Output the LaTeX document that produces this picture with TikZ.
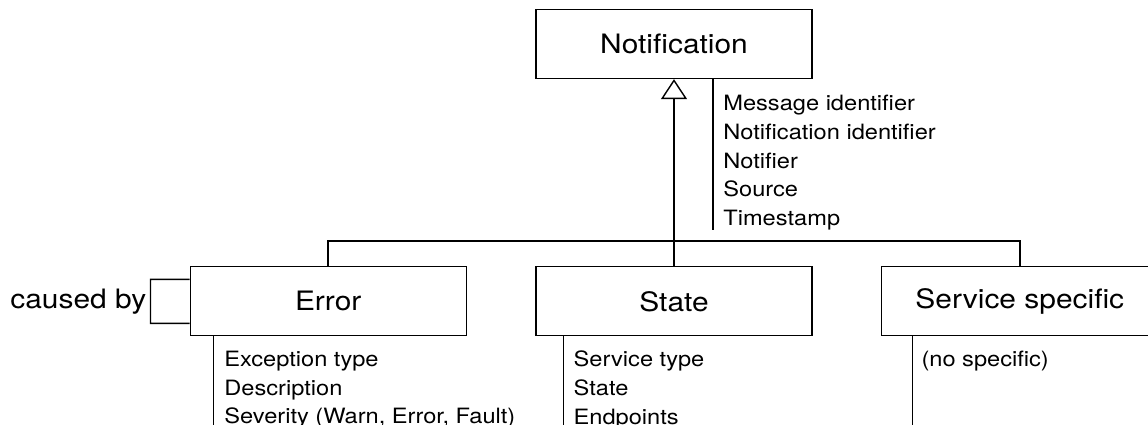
\documentclass[tikz,border=0pt]{standalone}
\usepackage{fontspec}
\setmainfont[FakeStretch=1.12]{TeX Gyre Heros}
\usepackage{tikz}
\usetikzlibrary{arrows.meta,positioning,calc}

\begin{document}
\begin{tikzpicture}[
    node distance=3.74cm and 1.37cm,
    classbox/.style={rectangle, draw, line width=0.75pt, minimum width=5.52cm, minimum height=1.38cm, font=\fontsize{15.2}{18}\selectfont},
    attrline/.style={line width=0.6pt},
    attrtext/.style={anchor=north west, inner sep=0pt, align=left, font=\fontsize{12}{16.4}\selectfont},
    bus/.style={line width=0.8pt},
    genarrow/.style={line width=1.1pt, -{Triangle[open, length=0.4cm, width=0.52cm, line width=0.8pt]}}
]
    \clip (0,0) rectangle (22.96,-8.5);

    % Main components
    \node[classbox] (notification) at (13.48,-0.88) {Notification};
    \node[classbox, below=of notification] (state) {State};
    \node[classbox, left=of state] (error) {Error};
    \node[classbox, right=of state] (service) {Service specific};

    % Generalisation
    \draw[bus] (error.north) -- ++(0,0.5cm) coordinate (busleft) -| (service.north);
    \draw[genarrow] (state.north) -- (notification.south);

    % Attributes
    \draw[attrline] ([xshift=0.78cm]notification.south) coordinate (nattr) -- ++(0,-3.02cm);
    \node[attrtext] at ([xshift=0.2cm, yshift=-0.31cm]nattr) {Message identifier\\Notification identifier\\Notifier\\Source\\Timestamp};

    \draw[attrline] ([xshift=0.48cm]error.south west) coordinate (eattr) -- ++(0,-2cm);
    \node[attrtext] at ([xshift=0.21cm, yshift=-0.28cm]eattr) {Exception type\\Description\\Severity (Warn, Error, Fault)};

    \draw[attrline] ([xshift=0.56cm]state.south west) coordinate (sattr) -- ++(0,-2cm);
    \node[attrtext] at ([xshift=0.2cm, yshift=-0.28cm]sattr) {Service type\\State\\Endpoints};

    \draw[attrline] ([xshift=0.62cm]service.south west) coordinate (xattr) -- ++(0,-2cm);
    \node[attrtext] at ([xshift=0.18cm, yshift=-0.28cm]xattr) {(no specific)};

    % Self association
    \draw[bus] ([yshift=0.44cm]error.west) -- ++(-0.78cm,0) coordinate (loop)
        -- ++(0,-0.88cm) node[midway, left, inner sep=2pt, font=\fontsize{15.2}{18}\selectfont] {caused by}
        -- ([yshift=-0.44cm]error.west);
\end{tikzpicture}
\end{document}
